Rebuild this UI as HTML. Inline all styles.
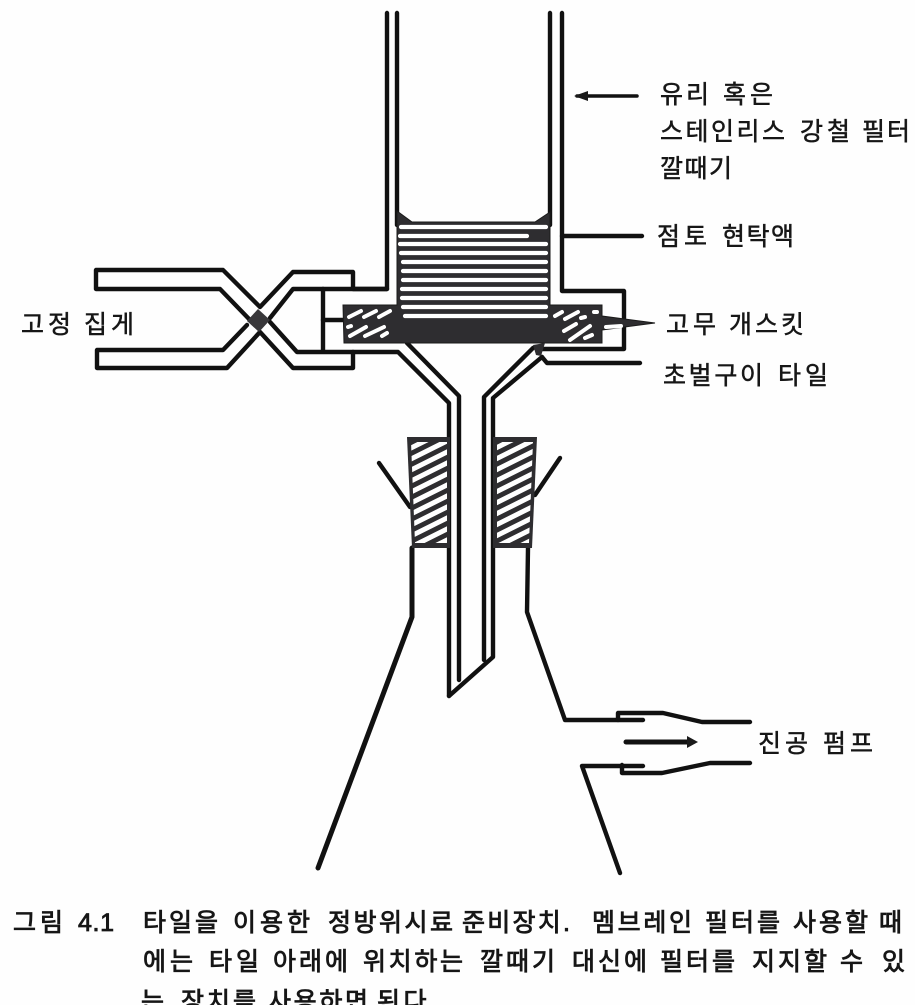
<!DOCTYPE html>
<html lang="ko">
<head>
<meta charset="utf-8">
<style>
html,body{margin:0;padding:0;background:#fefefe;width:915px;height:1005px;overflow:hidden}
svg{display:block}
text{font-family:"Liberation Sans","Noto Sans CJK KR","NanumGothic",sans-serif;fill:#161616;font-size:25px;stroke:#161616;stroke-width:.5px}
.c text{stroke-width:.85px}
</style>
</head>
<body>
<svg width="915" height="1005" viewBox="0 0 915 1005" xmlns="http://www.w3.org/2000/svg">
<defs>
<clipPath id="hl"><path d="M411 442H447V543H415Z"/></clipPath>
<clipPath id="hr"><path d="M497 442H533L529 543H497Z"/></clipPath>
</defs>
<rect width="915" height="1005" fill="#fefefe"/>
<g fill="none" stroke="#111" stroke-width="4.4" stroke-linejoin="round" stroke-linecap="round">
<!-- funnel walls -->
<path d="M387 13V289H353V272H293L260 307L223 270H96V289H220L250 320"/>
<path d="M397 13V225"/>
<path d="M550 13V225"/>
<path d="M562 13V291H624V349H540"/>
<path d="M562 236H642"/>
<!-- clamp -->
<path d="M270 318L293 289H387"/>
<path d="M323 289V351"/>
<path d="M323 320H345"/>
<path d="M270 322L297 352H398L449 403V696"/>
<path d="M247 325L223 350H97V368H227L260 332L293 368H353V352"/>
<!-- funnel stem -->
<path d="M407 343L459 396V680"/>
<path d="M533 348L484 397V660"/>
<path d="M542 357L493 398V657L449 696"/>
<path d="M542 357L547 363H640"/>
<!-- flask -->
<path d="M412 548V617L318 868" stroke-width="5"/>
<path d="M528 548L527 612L565 720H643"/>
<path d="M618 720V713H663L702 722H750"/>
<path d="M620 873L582 766H643"/>
<path d="M622 765V773H662L710 763H750"/>
<path d="M379 463L410 507"/>
<path d="M560 458L535 495"/>
<path d="M626 742H687" stroke-width="5"/>
<path d="M577 96H637" stroke-width="3.5"/>
</g>
<path d="M687 736L698 742L687 748Z" fill="#1a1a1a"/>
<path d="M574 96L588 91V101Z" fill="#1a1a1a"/>
<path d="M258 309L270 320L259 332L247 321Z" fill="#38373a"/>
<!-- filter body -->
<path d="M397 211L412 222H535L550 212V305H602V316L655 323L602 330V343H344L343 305H397Z" fill="#2e2d30" stroke="#1a1a1a" stroke-width="1"/>
<path d="M533 345L545 343L541 356L536 355Z" fill="#2e2d30"/>
<!-- filter slots -->
<g stroke="#fff" stroke-width="4.2" stroke-linecap="round" fill="none">
<path d="M401 227H546"/>
<path d="M400 236H527"/>
<path d="M400 244H546"/>
<path d="M401 253H546"/>
<path d="M403 262H546"/>
<path d="M403 271H546"/>
<path d="M403 280H546"/>
<path d="M402 289H546"/>
<path d="M402 298H546"/>
<path d="M403 307H546"/>
<path d="M405 316H546"/>
</g>
<!-- gasket hatch -->
<g stroke="#fff" stroke-width="4" stroke-linecap="round" fill="none">
<path d="M349 317L361 311M364 317L376 311M379 317L390 311"/>
<path d="M348 327L351 326M350 336L366 327M365 336L384 327M382 336L387 333"/>
<path d="M555 316L562 312M565 319L578 312M581 318L585 317"/>
<path d="M564 331L576 324M570 340L590 326M585 338L592 335"/>
<path d="M594 312L597 312"/>
<path d="M606 327L621 326"/>
</g>
<!-- stoppers -->
<path d="M407 437H450V548H412Z" fill="#2e2d30"/>
<path d="M493 437H537L532 548H493Z" fill="#2e2d30"/>
<g stroke="#fff" stroke-width="5" fill="none">
<path clip-path="url(#hl)" d="M405 440L455 415M405 451L455 426M405 462L455 437M405 473L455 448M405 484L455 459M405 495L455 470M405 506L455 481M405 517L455 492M405 528L455 503M405 539L455 514M405 550L455 525M405 561L455 536"/>
<path clip-path="url(#hr)" d="M490 440L540 415M490 451L540 426M490 462L540 437M490 473L540 448M490 484L540 459M490 495L540 470M490 506L540 481M490 517L540 492M490 528L540 503M490 539L540 514M490 550L540 525M490 561L540 536"/>
</g>
<!-- labels -->
<text x="660" y="103" textLength="49">유리</text><text x="723" y="103" textLength="50">혹은</text>
<text x="660" y="140" textLength="125">스테인리스</text><text x="800" y="140" textLength="50">강철</text><text x="862" y="140" textLength="48">필터</text>
<text x="660" y="177" textLength="72">깔때기</text>
<text x="657" y="245" textLength="50">점토</text><text x="722" y="245" textLength="72">현탁액</text>
<text x="666" y="333" textLength="50">고무</text><text x="729" y="333" textLength="75">개스킷</text>
<text x="663" y="384" textLength="100">초벌구이</text><text x="778" y="384" textLength="50">타일</text>
<text x="21" y="333" textLength="50">고정</text><text x="84" y="333" textLength="50">집게</text>
<text x="758" y="752" textLength="50">진공</text><text x="823" y="752" textLength="50">펌프</text>
<g class="c">
<text x="13" y="931" textLength="50">그림</text><text x="78" y="931" textLength="36">4.1</text>
<text x="143" y="931" textLength="75">타일을</text><text x="233" y="931" textLength="77">이용한</text><text x="328" y="931" textLength="125">정방위시료</text><text x="462" y="931" textLength="108">준비장치.</text><text x="592" y="931" textLength="100">멤브레인</text><text x="705" y="931" textLength="75">필터를</text><text x="793" y="931" textLength="75">사용할</text><text x="879" y="931" textLength="25">때</text>
<text x="143" y="970" textLength="50">에는</text><text x="209" y="970" textLength="50">타일</text><text x="273" y="970" textLength="75">아래에</text><text x="363" y="970" textLength="100">위치하는</text><text x="480" y="970" textLength="75">깔때기</text><text x="572" y="970" textLength="75">대신에</text><text x="660" y="970" textLength="75">필터를</text><text x="752" y="970" textLength="75">지지할</text><text x="840" y="970" textLength="25">수</text><text x="882" y="970" textLength="25">있</text>
<text x="141" y="1010" textLength="25">는</text><text x="181" y="1010" textLength="75">장치를</text><text x="268" y="1010" textLength="100">사용하면</text><text x="377" y="1010" textLength="60">된다.</text>
</g>
</svg>
</body>
</html>
